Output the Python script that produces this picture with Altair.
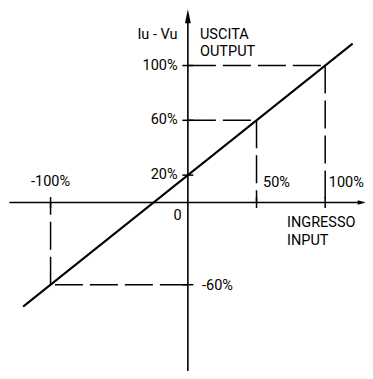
import altair as alt
import pandas as pd

# ---- data (percent of full scale) ----
# transfer characteristic: output = f(input)
line_in = [-120, 120]
line_out = [-76, 116]

# marked points on the characteristic
ref_in = [100, 50, -100]
ref_out = [100, 60, -60]

# axis ticks
x_ticks = [-100, 50, 100]
y_ticks = [100, 60, 20, -60]

# texts
y_tick_labels = ["100%", "60%", "20%"]
x_tick_labels = ["50%", "100%"]
neg_x_label = "-100%"
neg_y_label = "-60%"
origin_label = "0"
y_title = ["Iu - Vu"]
y_name = ["USCITA", "OUTPUT"]
x_name = ["INGRESSO", "INPUT"]

# ---- chart geometry ----
W, H = 357, 363
XD = [-131, 129]
YD = [-123, 142]
FONT = "Roboto"
FS = 14.5

xs = alt.Scale(domain=XD, nice=False, zero=False)
ys = alt.Scale(domain=YD, nice=False, zero=False)


def X(f="x"):
    return alt.X(f"{f}:Q", scale=xs, axis=None)


def Y(f="y"):
    return alt.Y(f"{f}:Q", scale=ys, axis=None)


# axes lines
axes_df = pd.DataFrame({
    "x": [XD[0] + 1, 0], "x2": [126, 0],
    "y": [0, YD[0]], "y2": [0, 131],
})
axes = alt.Chart(axes_df).mark_rule(color="black", strokeWidth=1.6).encode(
    x=X(), x2="x2:Q", y=Y(), y2="y2:Q")

# arrow heads
up_df = pd.DataFrame({"x": [0], "y": [136]})
up = alt.Chart(up_df).mark_point(
    shape="M0,-1L0.42,1L-0.42,1Z", filled=True, color="black", opacity=1, size=196
).encode(x=X(), y=Y())
right_df = pd.DataFrame({"x": [126.6], "y": [0]})
right = alt.Chart(right_df).mark_point(
    shape="M1,0L-1,-0.55L-1,0.55Z", filled=True, color="black", opacity=1, size=64
).encode(x=X(), y=Y())

# dashed guide lines
gx, gx2, gy, gy2 = [], [], [], []
for xi, yi in zip(ref_in, ref_out):
    gx += [0, xi]
    gx2 += [xi, xi]
    gy += [yi, yi]
    gy2 += [yi, 0]
guides_df = pd.DataFrame({"x": gx, "x2": gx2, "y": gy, "y2": gy2})
guides = alt.Chart(guides_df).mark_rule(
    color="black", strokeWidth=1.5, strokeDash=[28, 7]
).encode(x=X(), x2="x2:Q", y=Y(), y2="y2:Q")

# ticks
tk = 4
ticks_df = pd.DataFrame({
    "x": x_ticks + [-tk] * len(y_ticks),
    "x2": x_ticks + [tk] * len(y_ticks),
    "y": [-tk] * len(x_ticks) + y_ticks,
    "y2": [tk] * len(x_ticks) + y_ticks,
})
ticks = alt.Chart(ticks_df).mark_rule(color="black", strokeWidth=1.5).encode(
    x=X(), x2="x2:Q", y=Y(), y2="y2:Q")

# characteristic line
line_df = pd.DataFrame({"x": line_in, "y": line_out})
line = alt.Chart(line_df).mark_line(color="black", strokeWidth=2).encode(
    x=X(), y=Y())

# labels
right_lab = pd.DataFrame({
    "t": y_title + y_tick_labels + [origin_label],
    "x": [-7.5, -7.5, -7.5, -7.5, -4.5],
    "y": [122.5] + y_ticks[:3] + [-10],
})
left_lab = pd.DataFrame({
    "t": y_name + x_tick_labels + x_name + [neg_y_label],
    "x": [8.8, 8.8, 54.7, 102.6, 72.2, 72.2, 10.3],
    "y": [122.5, 109.8, 14, 14, -14.6, -28, -61],
})
center_lab = pd.DataFrame({"t": [neg_x_label], "x": [x_ticks[0]], "y": [14.8]})


def txt(df, align):
    return alt.Chart(df).mark_text(
        align=align, baseline="middle", font=FONT, fontSize=FS, color="black"
    ).encode(x=X(), y=Y(), text="t:N")


chart = alt.layer(
    guides, ticks, axes, up, right, line,
    txt(right_lab, "right"), txt(left_lab, "left"), txt(center_lab, "center"),
).properties(
    width=W, height=H, padding=0, autosize="none", background="white"
).configure_view(stroke=None)

chart.save("out.html", embed_options={"renderer": "svg", "actions": False})
